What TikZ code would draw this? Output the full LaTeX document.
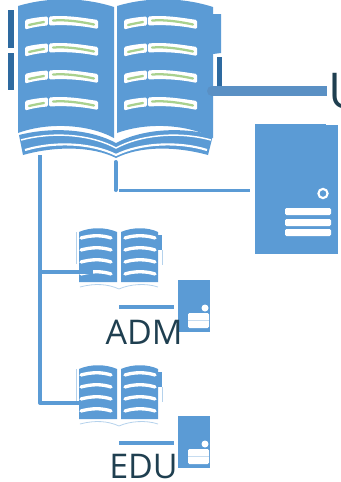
\documentclass[tikz,border=0pt]{standalone}
\usepackage{fontspec}
\setmainfont{Open Sans}
\definecolor{bookblue}{HTML}{5B9BD5}
\definecolor{linkblue}{HTML}{5A90C4}
\definecolor{tabblue}{HTML}{2E6AA0}
\definecolor{bandgreen}{HTML}{A9D18E}
\definecolor{labeldark}{HTML}{1F3F50}
\tikzset{
  link/.style={draw=bookblue,line width=3pt},
  title/.style={text=labeldark,inner sep=0pt,font=\fontsize{25.5}{28}\selectfont},
  serverbox/.style={draw=none,fill=bookblue,inner sep=0pt,anchor=north west},
  bigpage/.pic={
    % page body, rows of white bands with a green line in each
    \fill[bookblue] (0,6) .. controls (30,-3) and (65,-3) .. (96,7) -- (96,138)
      .. controls (70,124) and (30,122) .. (0,133) -- cycle;
    \foreach \row in {0,27,54,81} {
      \begin{scope}[yshift=-0.75*\row pt]
        \fill[white,rounded corners=1pt] (7,20) .. controls (14,18) and (22,17) .. (30,16.5)
          -- (30,25.5) .. controls (22,26) and (14,27.5) .. (7,29.5) -- cycle;
        \fill[white,rounded corners=1pt] (31,16.5) .. controls (50,15) and (66,18) .. (80,20)
          -- (80,29) .. controls (66,26) and (50,24.5) .. (31,25.5) -- cycle;
        \draw[bandgreen,line width=1.7pt,line cap=round] (11,25) .. controls (15,24) and (20,23) .. (26,22);
        \draw[bandgreen,line width=1.7pt,line cap=round] (35,20.5) .. controls (50,19.5) and (64,22) .. (76,24.5);
      \end{scope}
    }
  },
  smallbook/.pic={
    % two pages with white bands, tab and thin side marks
    \fill[bookblue] (79,232) .. controls (90,227) and (106,227) .. (117,232) -- (117,282) -- (79,282) -- cycle;
    \fill[bookblue] (121,232) .. controls (132,227) and (148,227) .. (158,232) -- (158,282) -- (121,282) -- cycle;
    \fill[bookblue] (158,235) rectangle (162,250);
    \foreach \row in {237,249,261,273} {
      \draw[white,line width=2.5pt,line cap=round] (81,\row+1) .. controls (92,\row-2) and (102,\row-2) .. (111,\row+1);
      \draw[white,line width=2.5pt,line cap=round] (125,\row+1) .. controls (134,\row-2) and (146,\row-2) .. (155,\row+1);
    }
    \draw[bookblue!45,line width=0.6pt] (76,232) -- (76,264);
    \draw[bookblue!45,line width=0.6pt] (162,250) -- (162,265);
    \draw[bookblue!45,line width=0.6pt] (80,287) .. controls (95,283) and (108,284) .. (119,289)
      .. controls (130,284) and (146,283) .. (158,287);
  },
  smallserver/.pic={
    \fill[bookblue] (178,280) rectangle (210,332);
    \fill[white] (205,308) circle (3.5);
    \fill[white,rounded corners=1pt] (188,313) rectangle (209,328);
    \draw[bookblue!35,line width=0.4pt] (188,320) -- (209,320);
  }
}
\begin{document}
\begin{tikzpicture}[x=0.75pt,y=-0.75pt]
  \useasboundingbox (0,0) rectangle (341,482);
  \clip (0,0) rectangle (341,482);

  % big book
  \fill[bookblue] (213,14) -- (221,14) -- (221,53) -- (213,54) -- cycle;
  \pic at (18,0) {bigpage};
  \pic at (117,0) {bigpage};
  \fill[bookblue] (19,135) .. controls (55,126) and (92,130) .. (116,143)
    .. controls (140,130) and (178,126) .. (213,135)
    -- (208,155) .. controls (175,146) and (140,146) .. (116,158)
    .. controls (92,146) and (55,146) .. (23,155) -- cycle;
  \draw[white,line width=1.1pt] (21,140) .. controls (55,131) and (92,135) .. (116,148)
    .. controls (140,135) and (178,131) .. (211,140);
  \draw[white,line width=1.6pt] (25,150) .. controls (55,141) and (92,143) .. (116,155)
    .. controls (140,143) and (178,141) .. (207,150);
  \fill[tabblue] (8,10) rectangle (14,48);
  \fill[tabblue] (8,53) rectangle (14,90);
  \fill[tabblue] (217,57) rectangle (222,88);

  % big server
  \node[serverbox,minimum width=62.25pt,minimum height=97.5pt] (srvU) at (255,124) {};
  \fill[white] (326,123) rectangle (339,124.7);
  \draw[white,line width=1.6pt,fill=bookblue] (323,193.5) circle (4.6);
  \foreach \row in {208,219,229}
    \fill[white,rounded corners=1pt] (285,\row) rectangle (331,\row+7);

  % small books and servers
  \pic at (0,0) {smallbook};
  \pic at (0,0) {smallserver};
  \pic at (0,137) {smallbook};
  \pic at (0,136) {smallserver};

  % labels
  \node[title,font=\fontsize{37}{40}\selectfont,anchor=base west] (lblU) at (328,108) {U};
  \node[title,anchor=base] (lblADM) at (144,344) {ADM};
  \node[title,anchor=base] (lblEDU) at (143.5,478) {EDU};

  % connectors
  \coordinate (bigtap) at (212,91);
  \coordinate (bigend) at (327,91);
  \draw[linkblue,line width=7.8pt] (bigtap) -- (bigend);
  \fill[linkblue] (bigtap) circle (5);

  \coordinate (spine) at (40,155);
  \coordinate (elbow) at (40,403);
  \coordinate (tapADM) at (40,272);
  \coordinate (endADM) at (93,272);
  \coordinate (endEDU) at (96,403);
  \draw[link,line join=round] (spine) -- (elbow) -- (endEDU);
  \draw[link,line width=2.4pt] (tapADM) -- (endADM);

  \coordinate (midtop) at (115.5,162);
  \coordinate (midend) at (115.5,190);
  \coordinate (srvtap) at (119,190.5);
  \draw[link,line cap=round] (midtop) -- (midend);
  \draw[link,line width=2.3pt,shorten >=4pt] (srvtap) -- (srvU.west |- srvtap);

  \coordinate (linkADMa) at (119,307);
  \coordinate (linkADMb) at (174,307);
  \coordinate (linkEDUa) at (119,443);
  \coordinate (linkEDUb) at (174,443);
  \draw[link,line width=2.4pt] (linkADMa) -- (linkADMb);
  \draw[link,line width=2.4pt] (linkEDUa) -- (linkEDUb);
\end{tikzpicture}
\end{document}
